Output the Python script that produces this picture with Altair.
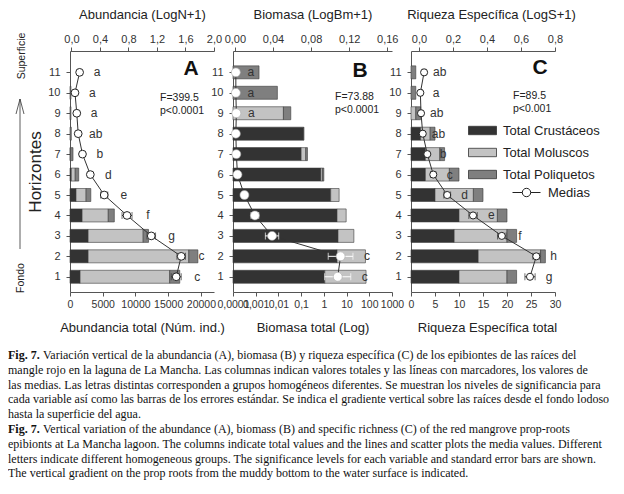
import altair as alt
import pandas as pd

FONT = "Liberation Sans"
SERIF = "Liberation Serif"

rows = list(range(1, 12))
groups = ["Total Crustáceos", "Total Moluscos", "Total Poliquetos"]
group_colors = ["#333333", "#c3c3c3", "#7f7f7f"]

# Panel A: abundance totals (individuals) for horizons 1..11
abund_crust = [1540, 2770, 2770, 1850, 920, 200, 0, 0, 0, 0, 0]
abund_moll = [13690, 15380, 8410, 4000, 1540, 600, 60, 0, 0, 0, 0]
abund_poli = [1540, 1390, 820, 920, 720, 530, 400, 200, 150, 150, 0]
abund_mean = [1.47, 1.54, 1.12, 0.78, 0.46, 0.265, 0.155, 0.095, 0.075, 0.05, 0.115]
abund_err = [0.07, 0.06, 0.06, 0.07, 0.05, 0.03, 0.02, 0.02, 0.02, 0.02, 0.02]
abund_letters = ["c", "c", "g", "f", "e", "d", "b", "ab", "a", "a", "a"]

# Panel B: biomass totals (log axis) for horizons 1..11
bio_crust = [1.1, 3.8, 4.2, 3.8, 2.0, 0.74, 0.10, 0.128, 0, 0, 0]
bio_moll = [71, 64, 16.8, 5.8, 2.7, 0.14, 0.06, 0.004, 0.0166, 0, 0]
bio_poli = [0, 0, 0, 0, 0, 0.12, 0.03, 0, 0.0184, 0.009, 0.0014]
bio_mean = [0.108, 0.111, 0.039, 0.021, 0.010, 0.0027, 0.0015, 0.001, 0.0015, 0.001, 0.001]
bio_err = [0.0137, 0.013, 0.007, 0.004, 0.002, 0.001, 0.001, 0.001, 0.001, 0.001, 0.001]
bio_letters = ["c", "c", "d", "b", "ab", "a", "a", "a", "a", "a", "a"]

# Panel C: species richness totals for horizons 1..11
rich_crust = [10, 14, 9, 10, 5, 3, 3, 2, 0, 0, 0]
rich_moll = [10, 13, 11, 8, 8, 5, 3, 2, 1, 0, 0]
rich_poli = [2, 1, 2, 2, 2, 2, 1, 1, 1, 1, 1]
rich_mean = [0.653, 0.69, 0.487, 0.318, 0.166, 0.084, 0.049, 0.022, 0.012, 0.008, 0.03]
rich_err = [0.03, 0.02, 0.025, 0.025, 0.02, 0.015, 0.01, 0.01, 0.01, 0.01, 0.01]
rich_letters = ["g", "h", "f", "e", "d", "c", "b", "ab", "ab", "a", "ab"]

stats_A = ["F=399.5", "p<0.0001"]
stats_B = ["F=73.88", "p<0.0001"]
stats_C = ["F=89.5", "p<0.001"]

# caption: (bold prefix, rest of line)
caption_lines = [
    ("Fig. 7.", "Variación vertical de la abundancia (A), biomasa (B) y riqueza específica (C) de los epibiontes de las raíces del"),
    ("", "mangle rojo en la laguna de La Mancha. Las columnas indican valores totales y las líneas con marcadores, los valores de"),
    ("", "las medias. Las letras distintas corresponden a grupos homogéneos diferentes. Se muestran los niveles de significancia para"),
    ("", "cada variable así como las barras de los errores estándar. Se indica el gradiente vertical sobre las raíces desde el fondo lodoso"),
    ("", "hasta la superficie del agua."),
    ("Fig. 7.", "Vertical variation of the abundance (A), biomass (B) and specific richness (C) of the red mangrove prop-roots"),
    ("", "epibionts at La Mancha lagoon. The columns indicate total values and the lines and scatter plots the media values. Different"),
    ("", "letters indicate different homogeneous groups. The significance levels for each variable and standard error bars are shown."),
    ("", "The vertical gradient on the prop roots from the muddy bottom to the water surface is indicated."),
]


def bar_frame(c, m, p, base=0.0):
    recs = []
    for i, r in enumerate(rows):
        lo = 0.0
        for g, v in zip(groups, (c[i], m[i], p[i])):
            hi = lo + v
            if v > 0:
                recs.append(dict(row=r, group=g, lo=max(lo, base), hi=hi))
            lo = hi
    return pd.DataFrame(recs)


def mean_frame(mean, err, letters):
    df = pd.DataFrame({"row": rows, "mean": mean, "err": err, "letter": letters})
    df["lo_e"] = df["mean"] - df["err"]
    df["hi_e"] = df["mean"] + df["err"]
    df["lab"] = "Medias"
    return df


one = pd.DataFrame({"k": [0]})

color_legend = alt.Legend(
    title=None, orient="none", legendX=405, legendY=72,
    symbolType="M-2,-0.6H2V0.6H-2Z", symbolSize=196,
    symbolStrokeColor="#333", symbolStrokeWidth=0.8,
    labelFont=FONT, labelFontSize=13, labelColor="#222", labelOffset=13,
    rowPadding=7, padding=0, labelLimit=0,
)

medias_legend = alt.Legend(
    title=None, orient="none", legendX=449, legendY=134,
    symbolType="M-2,0H-0.6M0.6,0H2M-0.6,0A0.6,0.6 0 1,0 0.6,0A0.6,0.6 0 1,0 -0.6,0Z",
    symbolSize=196, symbolFillColor="white", symbolStrokeWidth=1,
    labelFont=FONT, labelFontSize=13, labelColor="#222", labelOffset=14, padding=0,
)


def xaxis(orient, values, expr, title, title_pad, title_x=None, label_size=11):
    kw = {}
    if title_x is not None:
        kw["titleX"] = title_x
    return alt.Axis(
        orient=orient, values=values, labelExpr=expr, title=title,
        tickSize=4, labelPadding=3, titlePadding=title_pad,
        labelOverlap=False, labelFlush=False, grid=False,
        domainColor="#555", tickColor="#555", labelColor="#333", titleColor="#222",
        labelFontSize=label_size, titleFontSize=13, titleFontWeight="normal", **kw,
    )


def yaxis(title=None):
    kw = {}
    if title is not None:
        kw = dict(titleFontSize=17, titleFontWeight="normal", titleColor="#222", titlePadding=3)
    return alt.Axis(values=rows, format="d", tickSize=4, labelPadding=6, grid=False,
                    domainColor="#555", tickColor="#555", labelColor="#333",
                    labelFontSize=11, title=title, **kw)


def text_note(lines, x, y, size=10.5, bold=False, align="left", baseline="alphabetic",
              angle=0, font=FONT, line_height=12.5, color="#222"):
    mk = dict(text=lines, align=align, baseline=baseline, font=font, fontSize=size,
              fontWeight="bold" if bold else "normal", color=color, lineHeight=line_height)
    if angle:
        mk["angle"] = angle
    return alt.Chart(one).mark_text(**mk).encode(x=alt.value(x), y=alt.value(y))


def panel(bars_df, means_df, width, bot_scale, bot_axis, top_scale, top_axis,
          pt_size, pt_stroke, pt_stroke_w, err_color, line_color, letter_dx,
          notes, y_title=None, legend_medias=False):
    yenc = alt.Y("row:Q", scale=alt.Scale(domain=[0.5, 11.8], nice=False, zero=False),
                 axis=yaxis(y_title))
    bars = alt.Chart(bars_df).mark_bar(size=13, stroke="#3a3a3a", strokeWidth=0.6).encode(
        x=alt.X("lo:Q", scale=bot_scale, axis=bot_axis),
        x2="hi:Q",
        y=yenc,
        color=alt.Color("group:N", scale=alt.Scale(domain=groups, range=group_colors),
                        legend=color_legend),
    )
    base = alt.Chart(means_df)

    def xt(field):
        return alt.X(field, scale=top_scale, axis=top_axis)

    line = base.mark_line(color=line_color, strokeWidth=1).encode(
        x=xt("mean:Q"), y=yenc, order="row:Q")
    err = base.mark_rule(color=err_color, strokeWidth=1).encode(
        x=xt("lo_e:Q"), x2="hi_e:Q", y=yenc)
    cap_lo = base.mark_tick(orient="vertical", size=7, thickness=1, color=err_color).encode(
        x=xt("lo_e:Q"), y=yenc)
    cap_hi = base.mark_tick(orient="vertical", size=7, thickness=1, color=err_color).encode(
        x=xt("hi_e:Q"), y=yenc)
    pt_mark = dict(shape="circle", filled=True, fill="white", size=pt_size,
                   strokeWidth=pt_stroke_w, opacity=1)
    if legend_medias:
        points = base.mark_point(**pt_mark).encode(
            x=xt("mean:Q"), y=yenc,
            stroke=alt.Stroke("lab:N", scale=alt.Scale(domain=["Medias"], range=[pt_stroke]),
                              legend=medias_legend))
    else:
        points = base.mark_point(stroke=pt_stroke, **pt_mark).encode(x=xt("mean:Q"), y=yenc)
    letters = base.mark_text(dx=letter_dx, align="center", baseline="middle",
                             font=FONT, fontSize=12, color="#333").encode(
        x=xt("hi_e:Q"), y=yenc, text="letter:N")
    lower = alt.layer(bars, *notes)
    upper = alt.layer(line, err, cap_lo, cap_hi, points, letters)
    return alt.layer(lower, upper).resolve_scale(x="independent").properties(
        width=width, height=241)


# ---- caption (placed under panel A, spanning the figure) ----
caption_marks = []
for i, (bold_part, rest) in enumerate(caption_lines):
    y_line = 308 + i * 14.8
    if bold_part:
        caption_marks.append(text_note([bold_part], -62, y_line, size=12, bold=True,
                                       font=SERIF, color="#111"))
        caption_marks.append(text_note([rest], -27, y_line, size=12, font=SERIF, color="#111"))
    else:
        caption_marks.append(text_note([rest], -62, y_line, size=12, font=SERIF, color="#111"))

# ---- Panel A ----
notes_A = [
    text_note(["A"], 121, 18, size=21, bold=True, align="center", baseline="middle", color="#111"),
    text_note(stats_A, 90, 50, size=10.5),
    text_note(["Superficie"], -48, 5, size=10.5, align="center", baseline="middle", angle=270),
    text_note(["Fondo"], -49, 227, size=10.5, align="center", baseline="middle", angle=270),
    alt.Chart(one).mark_rule(color="#333", strokeWidth=0.8).encode(
        x=alt.value(-50), y=alt.value(48), y2=alt.value(198)),
    alt.Chart(one).mark_rule(color="#333", strokeWidth=0.8).encode(
        x=alt.value(-50), y=alt.value(48), x2=alt.value(-54), y2=alt.value(63)),
    alt.Chart(one).mark_rule(color="#333", strokeWidth=0.8).encode(
        x=alt.value(-50), y=alt.value(48), x2=alt.value(-46), y2=alt.value(63)),
] + caption_marks

chart_A = panel(
    bar_frame(abund_crust, abund_moll, abund_poli),
    mean_frame(abund_mean, abund_err, abund_letters),
    144,
    alt.Scale(domain=[0, 22000], nice=False, zero=False),
    xaxis("bottom", [0, 5000, 10000, 15000, 20000], "format(datum.value, 'd')",
          "Abundancia total (Núm. ind.)", 12, label_size=10.5),
    alt.Scale(domain=[-0.02, 2.0], nice=False, zero=False),
    xaxis("top", [0, 0.4, 0.8, 1.2, 1.6, 2.0], "replace(format(datum.value, '.1f'), '.', ',')",
          "Abundancia (LogN+1)", 12),
    60, "#222", 1, "#333", "#333", 16, notes_A, y_title="Horizontes",
)

# ---- Panel B ----
notes_B = [
    text_note(["B"], 127, 20, size=21, bold=True, align="center", baseline="middle", color="#111"),
    text_note(stats_B, 102, 49, size=10.5),
]
chart_B = panel(
    bar_frame(bio_crust, bio_moll, bio_poli, base=0.0001),
    mean_frame(bio_mean, bio_err, bio_letters),
    159,
    alt.Scale(type="log", domain=[0.0001, 1000], nice=False),
    xaxis("bottom", [0.0001, 0.001, 0.01, 0.1, 1, 10, 100, 1000],
          "replace(format(datum.value, '~f'), '.', ',')", "Biomasa total (Log)", 12,
          label_size=10.5),
    alt.Scale(domain=[-0.002, 0.165], nice=False, zero=False),
    xaxis("top", [0, 0.04, 0.08, 0.12, 0.16], "replace(format(datum.value, '.2f'), '.', ',')",
          "Biomasa (LogBm+1)", 12),
    80, "#aaaaaa", 0.6, "white", "#333", 14, notes_B,
)

# ---- Panel C ----
notes_C = [
    text_note(["C"], 129, 17, size=21, bold=True, align="center", baseline="middle", color="#111"),
    text_note(stats_C, 102, 48, size=10.5),
]
chart_C = panel(
    bar_frame(rich_crust, rich_moll, rich_poli),
    mean_frame(rich_mean, rich_err, rich_letters),
    144,
    alt.Scale(domain=[0, 30], nice=False, zero=False),
    xaxis("bottom", [0, 5, 10, 15, 20, 25, 30], "format(datum.value, 'd')",
          "Riqueza Específica total", 12, title_x=76, label_size=10.5),
    alt.Scale(domain=[-0.047, 0.8], nice=False, zero=False),
    xaxis("top", [0, 0.2, 0.4, 0.6, 0.8], "replace(format(datum.value, '.1f'), '.', ',')",
          "Riqueza Específica (LogS+1)", 12, title_x=80),
    50, "#222", 1, "#333", "#333", 14, notes_C, legend_medias=True,
)

chart = alt.hconcat(chart_A, chart_B, chart_C, spacing=19, bounds="flush").properties(
    autosize=alt.AutoSizeParams(type="pad"),
    padding={"left": 0, "top": 0, "right": 0, "bottom": 0},
    background="white",
).configure_view(stroke=None).configure_axis(labelFont=FONT, titleFont=FONT)

chart.save("out.html", embed_options={"renderer": "svg", "actions": False})
